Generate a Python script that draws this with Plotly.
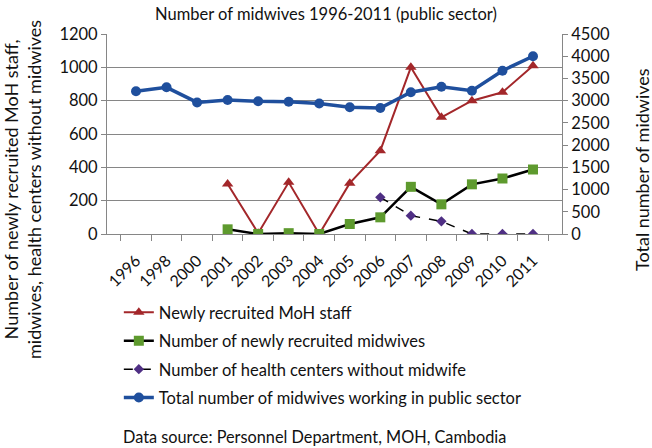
import plotly.graph_objects as go

years = ["1996", "1998", "2000", "2001", "2002", "2003", "2004", "2005",
         "2006", "2007", "2008", "2009", "2010", "2011"]
moh_staff = [None, None, None, 300, 5, 310, 0, 305, 500, 1000, 700, 800, 850, 1010]
new_midwives = [None, None, None, 28, 0, 5, 0, 60, 100, 283, 178, 298, 333, 387]
hc_without = [None, None, None, None, None, None, None, None, 220, 110, 76, 0, 0, 0]
total_midwives = [3210, 3300, 2960, 3015, 2985, 2975, 2935, 2850, 2835, 3190, 3315, 3225, 3675, 4000]

FONT = "Lato"
GRID = "#868686"
TXT = "#111111"

fig = go.Figure()
fig.add_trace(go.Scatter(
    x=years, y=moh_staff, name="Newly recruited MoH staff", legendgroup="a",
    mode="lines+markers", line=dict(color="#a3272a", width=2),
    marker=dict(symbol="triangle-up", size=10, color="#a3272a")))
fig.add_trace(go.Scatter(
    x=years, y=new_midwives, name="Number of newly recruited midwives", legendgroup="b",
    mode="lines+markers", line=dict(color="#000000", width=2.5),
    marker=dict(symbol="square", size=10, color="#5e9a2e")))
fig.add_trace(go.Scatter(
    x=years, y=hc_without, name="Number of health centers without midwife", legendgroup="c",
    mode="lines+markers", line=dict(color="#000000", width=1.5, dash="dash"),
    marker=dict(symbol="diamond", size=8, color="#4f2f84")))
fig.add_trace(go.Scatter(
    x=years, y=total_midwives, name="Total number of midwives working in public sector",
    legendgroup="d", yaxis="y2",
    mode="lines+markers", line=dict(color="#1f4f9d", width=3.5),
    marker=dict(symbol="circle", size=10, color="#1f4f9d")))

fig.update_layout(
    width=652, height=448,
    margin=dict(l=107, r=90, t=34, b=214, autoexpand=False),
    paper_bgcolor="white", plot_bgcolor="white",
    font=dict(family=FONT, size=16, color=TXT),
    title=dict(text="Number of midwives 1996-2011 (public sector)", x=0.5, xanchor="center",
               y=1 - 14 / 448, yanchor="middle", font=dict(size=16.5, family=FONT, color=TXT)),
    showlegend=True,
    hovermode=False,
    legend=dict(x=0.026, y=-0.305, xanchor="left", yanchor="top", orientation="v",
                font=dict(size=16.5, family=FONT, color=TXT), itemwidth=30, tracegroupgap=4,
                bgcolor="rgba(0,0,0,0)"),
    xaxis=dict(type="category", tickangle=-45, tickson="boundaries", ticks="outside",
               ticklen=6, tickcolor=GRID, showline=True, linecolor=GRID, linewidth=1,
               showgrid=False, ticklabelstandoff=10,
               tickfont=dict(size=16, family=FONT, color=TXT)),
    yaxis=dict(range=[0, 1200], dtick=200, showgrid=True, gridcolor=GRID, gridwidth=1,
               showline=True, linecolor=GRID, ticks="outside", ticklen=5, tickcolor=GRID,
               tickfont=dict(size=16.5, family=FONT, color=TXT), zeroline=False),
    yaxis2=dict(range=[0, 4500], dtick=500, overlaying="y", side="right", showgrid=False,
                showline=True, linecolor=GRID, ticks="outside", ticklen=5, tickcolor=GRID,
                tickfont=dict(size=16.5, family=FONT, color=TXT), zeroline=False),
    annotations=[
        dict(text="Number of newly recruited MoH staff,<br>midwives, health centers without midwives",
             textangle=-90, xref="paper", yref="paper", x=(22 - 107) / 455, y=(234 - 190) / 200,
             xanchor="center", yanchor="middle", showarrow=False,
             font=dict(size=18, family=FONT, color=TXT)),
        dict(text="Total number of midwives", textangle=-90, xref="paper", yref="paper",
             x=(642 - 107) / 455, y=(234 - 170) / 200, xanchor="center", yanchor="middle",
             showarrow=False, font=dict(size=18, family=FONT, color=TXT)),
        dict(text="Data source: Personnel Department, MOH, Cambodia", xref="paper", yref="paper",
             x=(121 - 107) / 455, y=(234 - 437) / 200, xanchor="left", yanchor="middle",
             showarrow=False, font=dict(size=16.3, family=FONT, color=TXT)),
    ],
)

fig.write_html("out.html", config={"displayModeBar": False},
               post_script="document.body.style.margin='0px';")
